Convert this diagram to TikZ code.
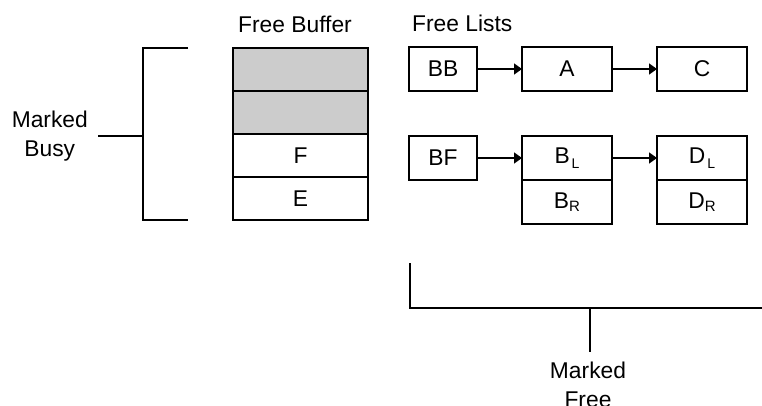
\documentclass[tikz,border=0pt]{standalone}
\usepackage{fontspec}
\setmainfont{Liberation Sans}
\usetikzlibrary{positioning,arrows.meta}

\newcommand\lsub[1]{\kern2pt\raisebox{-5pt}{\fontsize{14}{14}\selectfont #1}}
\newcommand\rsub[1]{\raisebox{-3pt}{\fontsize{15}{15}\selectfont #1}}

\begin{document}
\begin{tikzpicture}[
  x=1pt, y=-1pt,
  >={Triangle[length=8pt,width=11pt]},
  font=\fontsize{22.8}{29}\selectfont,
  cell/.style   ={rectangle, draw=black, line width=1.5pt, minimum width=135pt, minimum height=43pt, inner sep=0pt, outer sep=0pt},
  busy/.style   ={cell, fill=black!20},
  listbox/.style={rectangle, draw=black, line width=1.5pt, minimum width=90pt, minimum height=44pt, inner sep=0pt, outer sep=0pt},
  head/.style   ={listbox, minimum width=68pt},
  lbl/.style    ={align=center, inner sep=0pt},
  arc/.style    ={->, line width=1.5pt},
  brk/.style    ={line width=1.5pt},
  node distance=0pt and 45pt
]
\useasboundingbox (0,0) rectangle (762,406);

% ---- Free buffer stack -------------------------------------------------------
\node[busy, anchor=north west] (b1) at (233,48) {};
\node[busy, below=of b1] (b2) {};
\node[cell, below=of b2] (b3) {F};
\node[cell, below=of b3] (b4) {E};
\node[lbl, anchor=base] (fbuf) at (295,33) {Free Buffer};

% ---- Free lists ----------------------------------------------------------------
\node[head, anchor=north west] (bb) at (409,47) {BB};
\node[listbox, right=of bb] (a) {A};
\node[listbox, right=of a] (c) {C};

\node[head, anchor=north west] (bf) at (409,136) {BF};
\node[listbox, right=of bf] (bl) {B\lsub{L}};
\node[listbox, below=of bl] (br) {B\rsub{R}};
\node[listbox, right=of bl] (dl) {D\lsub{L}};
\node[listbox, below=of dl] (dr) {D\rsub{R}};
\node[lbl, anchor=base west] (flists) at (412,32) {Free Lists};

\draw[arc] (bb) -- (a);
\draw[arc] (a) -- (c);
\draw[arc] (bf) -- (bl);
\draw[arc] (bl) -- (dl);

% ---- Brackets ------------------------------------------------------------------
\node[lbl, anchor=east] (mbusy) at (88,136) {Marked\\Busy};
\coordinate (busytip) at (98,136);
\coordinate (busymid) at (143,136);
\draw[brk] (188,48) -- (143,48) -- (143,220) -- (188,220);
\draw[brk] (busytip) -- (busymid);

\node[lbl, anchor=north] (mfree) at (588,362) {Marked\\Free};
\coordinate (freemid) at (590,308);
\coordinate (freetip) at (590,352);
\draw[brk] (410,263) -- (410,308) -- (762,308);
\draw[brk] (freemid) -- (freetip);

\end{tikzpicture}
\end{document}
